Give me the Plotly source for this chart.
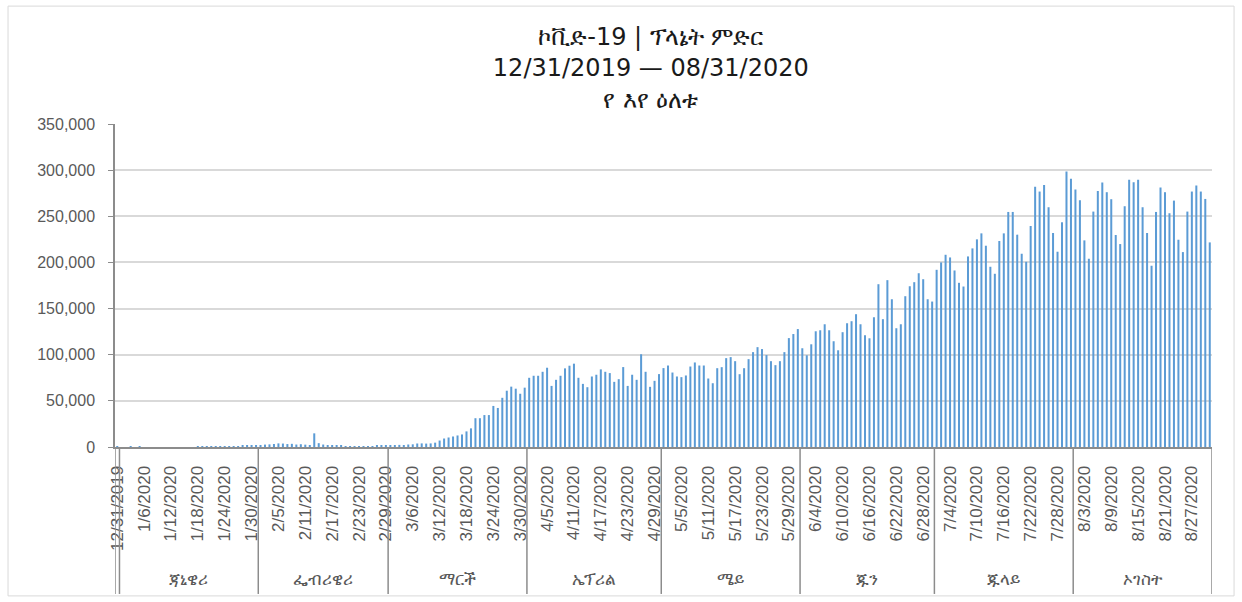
import pandas as pd
import plotly.graph_objects as go

# daily new cases, one list per month (12/31/2019 .. 08/31/2020)
cases_dec = [27]
cases_jan = [0, 0, 17, 0, 15, 0, 0, 0, 0, 0, 0, 0, 1, 0, 1, 1, 4, 17, 136, 19,
             151, 140, 97, 266, 453, 673, 797, 1767, 1481, 1755, 2010]
cases_feb = [2127, 2604, 2834, 3239, 3915, 3723, 3173, 3437, 2676, 3001, 2546, 2062,
             14800, 4156, 2662, 2115, 2072, 1900, 1780, 558, 1000, 950, 650, 500, 800,
             900, 1200, 1300, 1800]
cases_mar = [1800, 1900, 2300, 2200, 2700, 2900, 3800, 3900, 3700, 3900, 4700, 7000,
             9200, 10300, 11400, 12500, 13600, 16900, 20200, 31200, 31200, 34600, 34600,
             44500, 42300, 53300, 61000, 65400, 63200, 57700, 64300]
cases_apr = [75000, 77200, 77200, 81500, 85900, 66200, 72800, 77200, 85200, 88100,
             90300, 75000, 68400, 64800, 76400, 78300, 84100, 81500, 80100, 70600,
             73500, 86600, 66200, 78300, 72800, 100500, 81500, 65200, 71700, 79000]
cases_may = [85500, 88300, 80700, 76400, 75700, 77500, 87200, 91600, 88300, 88300,
             74200, 69100, 85400, 86500, 96300, 97400, 93000, 78900, 85400, 95200,
             102800, 108200, 106100, 99600, 93000, 88700, 93000, 102800, 118000, 122400,
             127800]
cases_jun = [107000, 99400, 111300, 125400, 126500, 133000, 126500, 114600, 104800,
             124400, 134100, 136300, 143900, 133000, 121100, 117800, 140600, 176400,
             138500, 180800, 160100, 128700, 133000, 163400, 174200, 178600, 188300,
             181800, 160100, 157600]
cases_jul = [192000, 200000, 208300, 205400, 191300, 177900, 173900, 206500, 215200,
             225000, 231500, 218100, 195300, 187700, 223200, 231500, 254700, 254700,
             230100, 209400, 200700, 239500, 281900, 276800, 284000, 259800, 231900,
             211600, 243500, 298500, 290600]
cases_aug = [279000, 267400, 223900, 204000, 255100, 277500, 286600, 276100, 268500,
             229700, 219900, 260900, 289500, 286900, 289500, 259800, 231900, 196400,
             254700, 281100, 276100, 253300, 267000, 224600, 211200, 255100, 276800,
             283300, 276800, 268800, 221700]

month_names = ['', 'ጃኒዌሪ', 'ፌብሪዌሪ', 'ማርች', 'ኤፕሪል', 'ሜይ', 'ጁን', 'ጁላይ', 'ኦገስት']
month_cases = [cases_dec, cases_jan, cases_feb, cases_mar, cases_apr,
               cases_may, cases_jun, cases_jul, cases_aug]

title_text = 'ኮቪድ-19 | ፕላኔት ምድር<br>12/31/2019 — 08/31/2020<br>የ እየ ዕለቱ'

dates = pd.date_range('2019-12-31', '2020-08-31', freq='D')
labels = [f'{d.month}/{d.day}/{d.year}' for d in dates]
cases = [v for month in month_cases for v in month]

FONT = 'Liberation Sans, Noto Sans, DejaVu Sans, sans-serif'
GREY = '#595959'
AXIS = '#8c8c8c'

fig = go.Figure(go.Bar(
    x=labels,
    y=cases,
    marker=dict(color='#5B9BD5', line_width=0),
))

# month separators + month names under the date labels
shapes = []
annotations = []
start = 0
for name, month in zip(month_names, month_cases):
    end = start + len(month)
    shapes.append(dict(type='line', xref='x', yref='paper',
                       x0=start - 0.5, x1=start - 0.5, y0=0, y1=-0.455,
                       line=dict(color=AXIS, width=1.5)))
    if name:
        annotations.append(dict(text=name, xref='x', yref='paper',
                                x=(start + end - 1) / 2, y=-0.41,
                                showarrow=False, yanchor='middle',
                                font=dict(size=17, color=GREY, family=FONT)))
    start = end
shapes.append(dict(type='line', xref='x', yref='paper',
                   x0=start - 0.5, x1=start - 0.5, y0=0, y1=-0.455,
                   line=dict(color=AXIS, width=1.5)))
# chart area frame
shapes.append(dict(type='rect', xref='paper', yref='paper',
                   x0=-0.0975, x1=1.0201, y0=-0.461, y1=1.365,
                   line=dict(color='#D9D9D9', width=1)))

fig.update_layout(
    width=1242,
    height=602,
    margin=dict(l=115, r=30, t=124, b=155),
    plot_bgcolor='white',
    paper_bgcolor='white',
    font=dict(family=FONT, size=16, color=GREY),
    title=dict(
        text=title_text,
        x=0.524,
        xref='container',
        xanchor='center',
        y=0.925,
        yanchor='top',
        font=dict(family='DejaVu Sans, sans-serif', size=24, color='#1a1a1a'),
    ),
    bargap=0.55,
    showlegend=False,
    shapes=shapes,
    annotations=annotations,
    xaxis=dict(
        type='category',
        range=[-0.5, len(labels) - 0.5],
        tickmode='array',
        tickvals=labels[::6],
        ticktext=labels[::6],
        tickangle=-90,
        tickfont=dict(size=17, color=GREY),
        ticks='',
        ticklabelstandoff=10,
        showgrid=False,
        showline=True,
        linecolor=AXIS,
        linewidth=2,
        zeroline=False,
    ),
    yaxis=dict(
        range=[0, 350000],
        dtick=50000,
        tickformat=',d',
        tickfont=dict(size=16, color=GREY),
        ticks='outside',
        ticklen=5,
        tickcolor=AXIS,
        ticklabelstandoff=10,
        showgrid=True,
        gridcolor='#D9D9D9',
        gridwidth=1.5,
        showline=True,
        linecolor=AXIS,
        linewidth=1.5,
        zeroline=False,
    ),
)

fig.write_html('out.html', config={'displayModeBar': False},
               post_script="document.body.style.margin = '0';")
